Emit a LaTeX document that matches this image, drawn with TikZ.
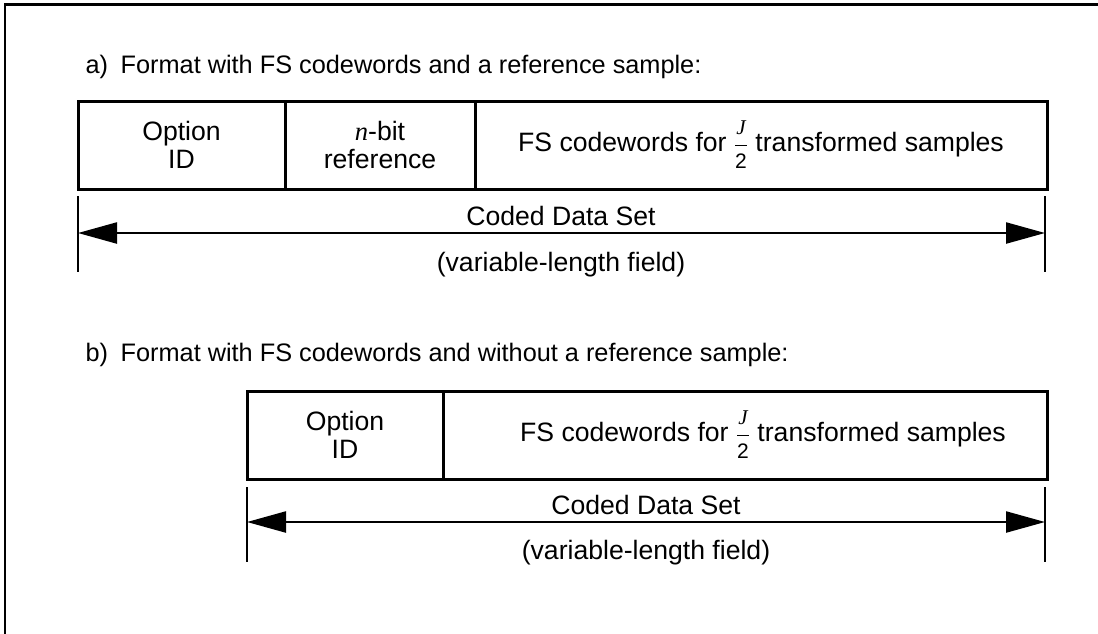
\documentclass[tikz,border=0pt]{standalone}
\usepackage{amsmath}
\usepackage{fontspec}
\setmainfont{Liberation Sans}
\newfontfamily\serifvar{Liberation Serif}
\usetikzlibrary{arrows.meta,positioning}

\newcommand{\varit}[1]{{\serifvar\itshape #1}}
\newcommand{\fracsize}{\fontsize{21}{21}\selectfont}
\newcommand{\halfJ}{$\dfrac{\text{\fracsize\varit{J}}}{\text{\fracsize 2}}$}

\begin{document}
\begin{tikzpicture}[x=1pt, y=-1pt,
    every node/.style={font=\fontsize{26.6}{28}\selectfont},
    title/.style={anchor=base west, font=\fontsize{25.3}{28}\selectfont},
    cell/.style={draw, line width=3pt, minimum height=88pt, inner sep=0pt, outer sep=0pt, align=center},
    frame/.style={line width=2.8pt},
    tick/.style={line width=2.5pt},
    dimarrow/.style={{Triangle[length=39pt,width=21pt]}-{Triangle[length=39pt,width=21pt]}, line width=2.3pt}
]
\useasboundingbox (0,0) rectangle (1098,633);

% Outer frame (cut at right and bottom)
\draw[frame] (5,640) -- (5,4.5) -- (1105,4.5);

% a) with reference sample
\node[title] (titleA) at (82,73) {a)\hspace{0.5em}Format with FS codewords and a reference sample:};
\node[cell, anchor=north west, minimum width=207pt] (optA) at (78,101) {Option\\ID};
\node[cell, right=0pt of optA, minimum width=190pt] (refA) {\varit{n}-bit\\reference};
\node[cell, right=0pt of refA, minimum width=572pt] (fsA) {FS codewords for \halfJ\ transformed samples};

\coordinate (tkAlt) at (78,196);
\coordinate (tkAlb) at (78,272);
\coordinate (tkArt) at (1045,196);
\coordinate (tkArb) at (1045,272);
\coordinate (dimAl) at (78,233);
\coordinate (dimAr) at (1045,233);
\draw[tick] (tkAlt) -- (tkAlb);
\draw[tick] (tkArt) -- (tkArb);
\draw[dimarrow] (dimAl) -- (dimAr);
\node (codedA) at (561,216) {Coded Data Set};
\node (varA) at (561,265) {(variable-length field)};

% b) without reference sample
\node[title] (titleB) at (82,361) {b)\hspace{0.5em}Format with FS codewords and without a reference sample:};
\node[cell, anchor=north west, minimum width=196pt] (optB) at (247,391) {Option\\ID};
\node[cell, right=0pt of optB, minimum width=604pt] (fsB) {};
\node (fsBtext) at ([xshift=18pt]fsB.center) {FS codewords for \halfJ\ transformed samples};

\coordinate (tkBlt) at (247,487);
\coordinate (tkBlb) at (247,562);
\coordinate (tkBrt) at (1045,487);
\coordinate (tkBrb) at (1045,562);
\coordinate (dimBl) at (247,522);
\coordinate (dimBr) at (1045,522);
\draw[tick] (tkBlt) -- (tkBlb);
\draw[tick] (tkBrt) -- (tkBrb);
\draw[dimarrow] (dimBl) -- (dimBr);
\node (codedB) at (646,505) {Coded Data Set};
\node (varB) at (646,553) {(variable-length field)};

\end{tikzpicture}
\end{document}
